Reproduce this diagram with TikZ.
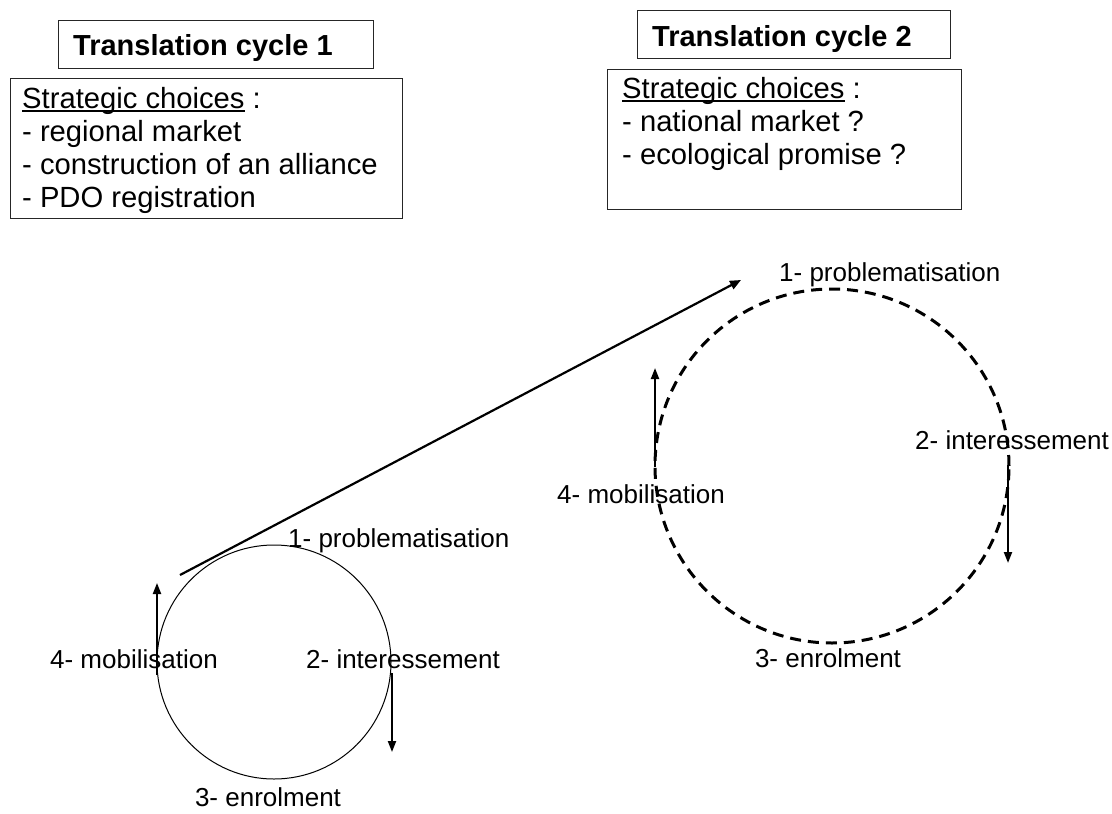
\documentclass[tikz,border=0pt]{standalone}
\usepackage{fontspec}
\setmainfont{Liberation Sans}
\usetikzlibrary{arrows.meta}
% underline drawn as a rule just below the baseline
\newcommand\myul[1]{\setbox0\hbox{#1}\rlap{\rule[-3.6pt]{\wd0}{1.5pt}}\box0\relax}

\begin{document}
\begin{tikzpicture}[x=1pt,y=-1pt,
  frame/.style={draw=black!85, line width=1.2pt, inner sep=0pt, anchor=north west},
  ring/.style={circle, draw, inner sep=0pt},
  lbl/.style={inner sep=0pt, font=\fontsize{26}{30}\selectfont},
  body/.style={inner sep=0pt, anchor=base west, font=\fontsize{29.2}{33}\selectfont},
  ttl/.style={inner sep=0pt, anchor=base west, font=\fontsize{29}{33}\selectfont\bfseries},
  flow/.style={line width=2.2pt, -{Triangle[length=11pt,width=9pt]}},
  turn/.style={line width=2pt, -{Triangle[length=11pt,width=8pt]}}]

\useasboundingbox (0,0) rectangle (1112,814);

% ---- cycle 1 : header and strategic choices
\node[frame, minimum width=315pt, minimum height=48pt] (tbox1) at (58,20) {};
\node[ttl] (ttl1) at (73,55) {Translation cycle 1};
\node[frame, minimum width=392pt, minimum height=140pt] (sbox1) at (10,78) {};
\node[body] (s1a) at (22,108) {\myul{Strategic choices} :};
\node[body] (s1b) at (22,141) {- regional market};
\node[body] (s1c) at (22,174) {- construction of an alliance};
\node[body] (s1d) at (22,207) {- PDO registration};

% ---- cycle 2 : header and strategic choices
\node[frame, minimum width=313pt, minimum height=48pt] (tbox2) at (637,10) {};
\node[ttl] (ttl2) at (652,46) {Translation cycle 2};
\node[frame, minimum width=354pt, minimum height=140pt] (sbox2) at (607,69) {};
\node[body] (s2a) at (622,98) {\myul{Strategic choices} :};
\node[body] (s2b) at (622,131) {- national market ?};
\node[body] (s2c) at (622,164) {- ecological promise ?};

% ---- first translation cycle (solid ring)
\node[ring, line width=1pt, minimum size=234pt] (ring1) at (274,662) {};
\node[lbl, anchor=base west] (p1) at (288,547) {1- problematisation};
\node[lbl, anchor=base west] (i1) at (306,668) {2- interessement};
\node[lbl, anchor=base] (e1) at (268,806) {3- enrolment};
\node[lbl, anchor=base east] (m1) at (218,668) {4- mobilisation};

\coordinate (u1s) at (157,675);
\coordinate (u1e) at (157,583);
\coordinate (d1s) at (392,673);
\coordinate (d1e) at (392,752);
\draw[turn] (u1s) -- (u1e);
\draw[turn] (d1s) -- (d1e);

% ---- second translation cycle (dashed ring)
\node[ring, line width=3pt, dash pattern=on 11pt off 7pt, minimum size=354pt] (ring2) at (832,466) {};
\node[lbl, anchor=base west] (p2) at (779,281) {1- problematisation};
\node[lbl, anchor=base west] (i2) at (915,449) {2- interessement};
\node[lbl, anchor=base] (e2) at (828,667) {3- enrolment};
\node[lbl, anchor=base west] (m2) at (557,503) {4- mobilisation};

\coordinate (u2s) at (655,467);
\coordinate (u2e) at (655,368);
\coordinate (d2s) at (1008,465);
\coordinate (d2e) at (1008,563);
\draw[turn] (u2s) -- (u2e);
\draw[turn] (d2s) -- (d2e);

% ---- passage from cycle 1 to cycle 2
\coordinate (jumpS) at (180,575);
\coordinate (jumpE) at (741,280);
\draw[flow] (jumpS) -- (jumpE);
\end{tikzpicture}
\end{document}
